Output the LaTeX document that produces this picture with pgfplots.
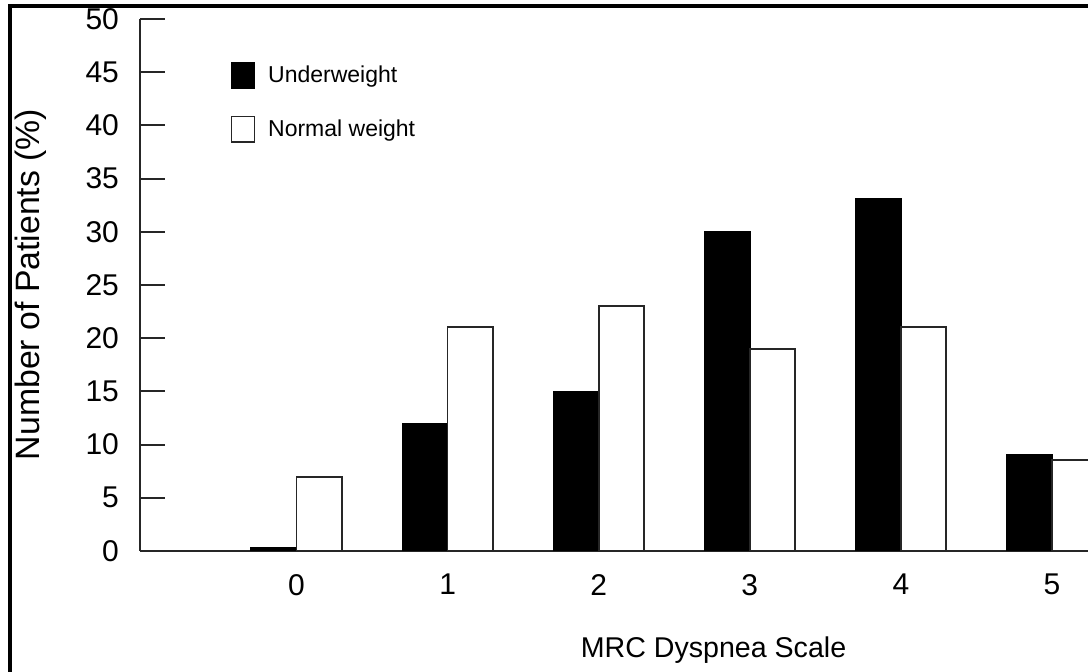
\documentclass[border=0pt]{standalone}
\usepackage{fontspec}
\setmainfont{Liberation Sans}
\usepackage{pgfplots}
\pgfplotsset{compat=1.18}
\begin{document}
\begin{tikzpicture}
\useasboundingbox (-70pt,-60.5pt) rectangle (474pt,275.5pt);
\draw[line width=1.6pt] (-65pt,-62pt) -- (-65pt,272.5pt) -- (476pt,272.5pt);
\begin{axis}[
 at={(0,0)}, anchor=south west,
 scale only axis, width=474pt, height=266pt,
 xmin=-1.036, xmax=5.238, ymin=0, ymax=50,
 axis x line=bottom, axis y line=left,
 axis line style={-, line width=1pt, black!85},
 bar width=0.30,
 xtick={0,...,5}, ytick={0,5,...,50},
 major x tick style={draw=none},
 major y tick style={line width=1pt, black!85},
 tick align=inside, major tick length=12.5pt,
 /pgf/number format/assume math mode=true,
 tick label style={font=\fontsize{15}{18}\selectfont},
 xticklabel style={yshift=-8pt},
 yticklabel style={xshift=-7pt},
 xlabel={MRC Dyspnea Scale}, ylabel={Number of Patients (\%)},
 xlabel style={font=\fontsize{14.3}{17}\selectfont, at={(axis description cs:0.605,-0.186)}, anchor=center},
 ylabel style={font=\fontsize{16.9}{19}\selectfont, at={(axis description cs:-0.115,0.501)}, anchor=center},
 legend style={draw=none, fill=none, at={(axis description cs:0.0888,0.928)}, anchor=north west,
   font=\fontsize{11.5}{14}\selectfont, row sep=13pt, legend cell align=left},
 legend image code/.code={\draw[#1,line width=0.8pt] (-3pt,-6.3pt) rectangle (8.5pt,6.3pt); \path (13pt,0pt);},
]
\addplot[ybar, bar shift=-0.15, fill=black, draw=black, line width=0.8pt] coordinates {
 (0,0.3) (1,12) (2,15) (3,30) (4,33.1) (5,9)};
\addlegendentry{Underweight}
\addplot[ybar, bar shift=0.15, fill=white, draw=black!85, line width=0.8pt] coordinates {
 (0,6.95) (1,21.05) (2,23) (3,19) (4,21.05) (5,8.55)};
\addlegendentry{Normal weight}
\end{axis}
\end{tikzpicture}
\end{document}
